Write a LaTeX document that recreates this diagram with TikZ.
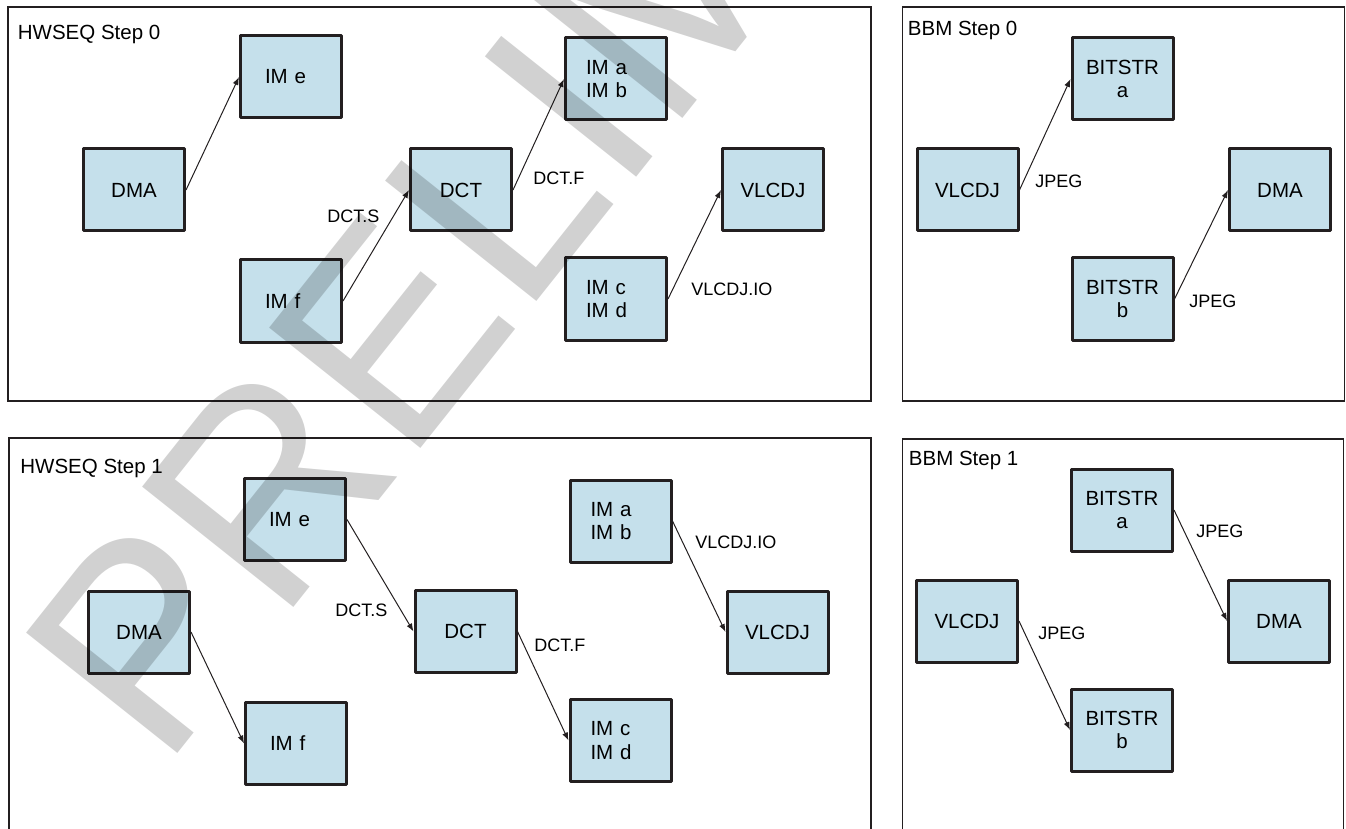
\documentclass[tikz,border=0pt]{standalone}
\usepackage{fontspec}
\setmainfont{Liberation Sans}
\usepackage{xcolor}
\usepackage{tikz}
\usetikzlibrary{arrows.meta}
\definecolor{boxblue}{RGB}{197, 224, 235}
\definecolor{framegray}{RGB}{35, 31, 32}

\begin{document}
\begin{tikzpicture}[x=0.5pt, y=-0.5pt,
  modbox/.style={draw=framegray, line width=1.5pt, fill=boxblue, line join=round,
    minimum width=50.5pt, minimum height=41pt, inner sep=0pt,
    font=\fontsize{10.25}{11.7}\selectfont},
  membox/.style={modbox, align=left, text width=30pt},
  strbox/.style={modbox, align=center},
  steplabel/.style={anchor=base west, inner sep=0pt, font=\fontsize{10.25}{12}\selectfont},
  sig/.style={anchor=base west, inner sep=0pt, font=\fontsize{9}{11}\selectfont},
  flow/.style={-{Latex[length=4pt, width=3pt]}, line width=0.5pt, draw=framegray},
  panel/.style={line width=0.75pt, draw=framegray}]
  \useasboundingbox (0,0) rectangle (1346,829);

  % Marcos
  \draw[panel] (8,7) rectangle (871,401);
  \draw[panel] (902.5,7) rectangle (1344.5,401);
  \draw[panel] (9,829) -- (9,438) -- (871,438) -- (871,829);
  \draw[panel] (902.5,829) -- (902.5,439) -- (1343.5,439) -- (1343.5,829);

  \node[steplabel] (hwA) at (17.5,39.3) {HWSEQ Step 0};
  \node[steplabel] (bbmA) at (907.5,36) {BBM Step 0};
  \node[steplabel] (hwB) at (20,473) {HWSEQ Step 1};
  \node[steplabel] (bbmB) at (908.5,466) {BBM Step 1};

  % HWSEQ paso 0
  \node[modbox] (dmaA) at (134,190) {DMA};
  \node[membox, text width=26pt] (imeA) at (291,77) {IM e};
  \node[membox, text width=26pt] (imfA) at (291,301) {IM f};
  \node[modbox] (dctA) at (461,190) {DCT};
  \node[membox] (imabA) at (616,79) {IM a\\IM b};
  \node[modbox] (vlcdjA) at (773,190) {VLCDJ};
  \node[membox] (imcdA) at (616,299) {IM c\\IM d};
  \node[sig] (dctsA) at (327,222.5) {DCT.S};
  \node[sig] (dctfA) at (533,185) {DCT.F};
  \node[sig] (vioA) at (691,296) {VLCDJ.IO};

  % HWSEQ paso 1
  \node[modbox] (dmaB) at (139,632) {DMA};
  \node[membox, text width=26pt] (imeB) at (295,519.5) {IM e};
  \node[membox, text width=26pt] (imfB) at (296,743.5) {IM f};
  \node[modbox] (dctB) at (465.5,631.5) {DCT};
  \node[membox] (imabB) at (620.5,521) {IM a\\IM b};
  \node[modbox] (vlcdjB) at (777.5,632) {VLCDJ};
  \node[membox] (imcdB) at (620.5,740.5) {IM c\\IM d};
  \node[sig] (dctsB) at (335,616) {DCT.S};
  \node[sig] (dctfB) at (534,651.7) {DCT.F};
  \node[sig] (vioB) at (695,548) {VLCDJ.IO};

  % BBM pasos 0 y 1
  \node[modbox] (bvlcA) at (967.5,190) {VLCDJ};
  \node[strbox] (bstraA) at (1122.5,79) {BITSTR\\a};
  \node[strbox] (bstrbA) at (1122.5,299) {BITSTR\\b};
  \node[modbox] (bdmaA) at (1280,190) {DMA};
  \node[sig] (jpgA) at (1035,187.5) {JPEG};
  \node[sig] (jpgAA) at (1189,307) {JPEG};

  \node[modbox] (bvlcB) at (967,621) {VLCDJ};
  \node[strbox] (bstraB) at (1122,510) {BITSTR\\a};
  \node[strbox] (bstrbB) at (1122,730) {BITSTR\\b};
  \node[modbox] (bdmaB) at (1279,621) {DMA};
  \node[sig] (jpgB) at (1196,537) {JPEG};
  \node[sig] (jpgBB) at (1038,639) {JPEG};

  % Conexiones
  \foreach \a/\b in {dmaA/imeA, imfA/dctA, dctA/imabA, imcdA/vlcdjA,
                     dmaB/imfB, imeB/dctB, dctB/imcdB, imabB/vlcdjB,
                     bvlcA/bstraA, bstrbA/bdmaA, bstraB/bdmaB, bvlcB/bstrbB} {
    \draw[flow] (\a.east) -- (\b.west);
  }

  % Marca de agua
  \begin{scope}
    \clip (0,0) rectangle (1346,829);
    \node[rotate=51.5, anchor=base west, inner sep=0pt, text=black, text opacity=0.18,
      font=\fontsize{140.5}{150}\selectfont] (marca) at (163,772) {PRELIM};
  \end{scope}
\end{tikzpicture}
\end{document}
